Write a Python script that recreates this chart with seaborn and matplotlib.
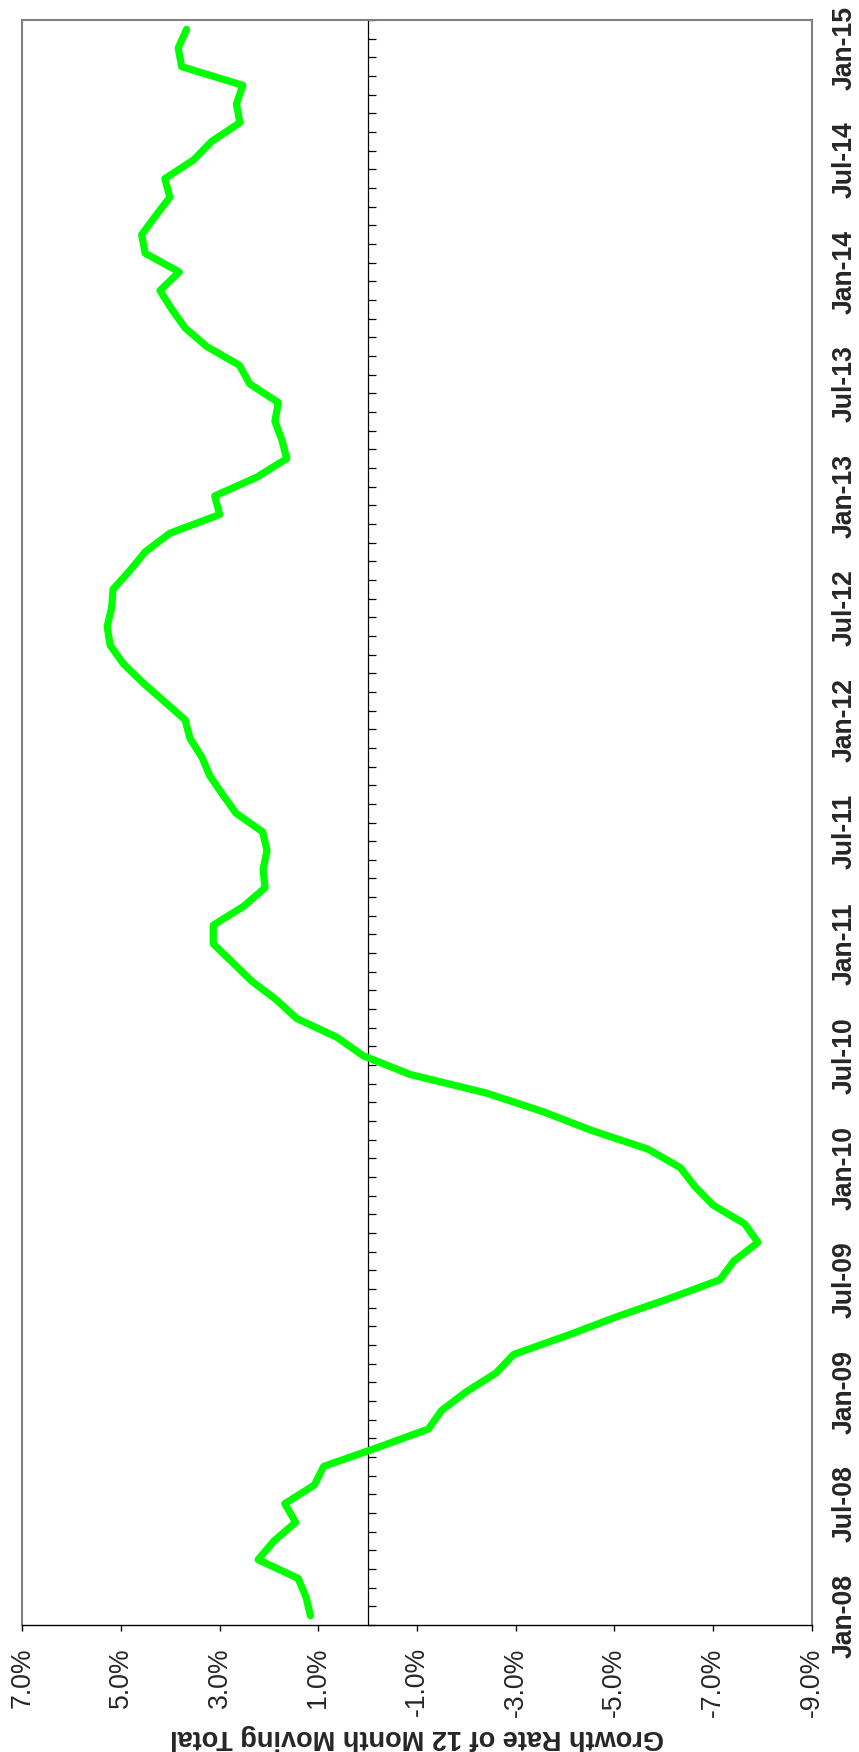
import numpy as np
import pandas as pd
import matplotlib
matplotlib.use("Agg")
import matplotlib.pyplot as plt
import seaborn as sns

# ---- data ----
months = pd.date_range("2008-01-01", "2015-02-01", freq="MS").strftime("%b-%y").tolist()
growth = [1.16, 1.25, 1.41, 2.22, 1.90, 1.46, 1.68, 1.08, 0.89, -0.19,
          -1.23, -1.50, -2.00, -2.60, -2.96, -4.03, -5.03, -6.12, -7.14, -7.42,
          -7.91, -7.64, -7.00, -6.63, -6.34, -5.68, -4.54, -3.56, -2.41, -0.86,
          0.09, 0.63, 1.44, 1.85, 2.35, 2.74, 3.13, 3.13, 2.52, 2.08,
          2.12, 2.04, 2.13, 2.67, 2.94, 3.20, 3.36, 3.60, 3.70, 4.13,
          4.56, 4.95, 5.22, 5.28, 5.19, 5.16, 4.82, 4.51, 4.01, 3.00,
          3.10, 2.25, 1.64, 1.74, 1.88, 1.81, 2.39, 2.60, 3.26, 3.70,
          3.97, 4.21, 3.82, 4.51, 4.58, 4.30, 4.01, 4.11, 3.53, 3.16,
          2.59, 2.66, 2.53, 3.77, 3.84, 3.67]
date_tick_labels = ["Jan-08", "Jul-08", "Jan-09", "Jul-09", "Jan-10", "Jul-10",
                    "Jan-11", "Jul-11", "Jan-12", "Jul-12", "Jan-13", "Jul-13",
                    "Jan-14", "Jul-14", "Jan-15"]
value_ticks = [7, 5, 3, 1, -1, -3, -5, -7, -9]
axis_title = "Growth Rate of 12 Month Moving Total"

sns.set_style("white")
plt.rcParams['font.family'] = ['Liberation Sans', 'DejaVu Sans']

fig = plt.figure(figsize=(8.59, 17.52), dpi=100)
ax = fig.add_axes([22.3 / 859, 1 - 1625 / 1752, (811.7 - 22.3) / 859, (1625 - 20) / 1752])

df = pd.DataFrame({"month": months, "pos": np.arange(len(months)), "growth": growth})
sns.lineplot(data=df, x="growth", y="pos", sort=False, estimator=None, orient="y",
             color="#00FF00", linewidth=5.2, ax=ax, zorder=3,
             solid_capstyle="round", solid_joinstyle="round")

ax.set_xlim(7, -9)
ax.set_ylim(-0.5, len(months) - 0.5)
ax.set_ylabel("")

# value axis (bottom)
ax.set_xticks(value_ticks)
ax.set_xticklabels([f"{v:.1f}%" for v in value_ticks], rotation=90)
ax.tick_params(axis='x', direction='out', length=4, width=1, color='black',
               pad=12, labelsize=19.2, bottom=True)

# category axis: zero line with monthly ticks, labels on the right
ax.spines['left'].set_position(('data', 0))
ax.spines['left'].set_color('black')
ax.spines['left'].set_linewidth(0.9)
ax.set_yticks(range(0, len(months), 6))
ax.set_yticklabels(date_tick_labels, rotation=90, fontweight='bold', va='center', ha='left')
ax.set_yticks(np.arange(-0.5, len(months), 1), minor=True)
ax.tick_params(axis='y', which='major', left=False, right=False, labelleft=False,
               labelright=True, labelsize=19.2, pad=11)
ax.tick_params(axis='y', which='minor', left=True, right=False, direction='in',
               length=6, width=0.9, color='black')

# frame
for s in ['top', 'right']:
    ax.spines[s].set_color('#808080')
    ax.spines[s].set_linewidth(1.5)
ax.spines['bottom'].set_color('black')
ax.spines['bottom'].set_linewidth(1.0)
ax.axvline(7, color='#808080', lw=1.5, clip_on=False, zorder=2.5)

ax.set_xlabel(axis_title, rotation=180, fontweight='bold', fontsize=19.5, labelpad=5)
ax.grid(False)

fig.savefig("out.png", dpi=100)
